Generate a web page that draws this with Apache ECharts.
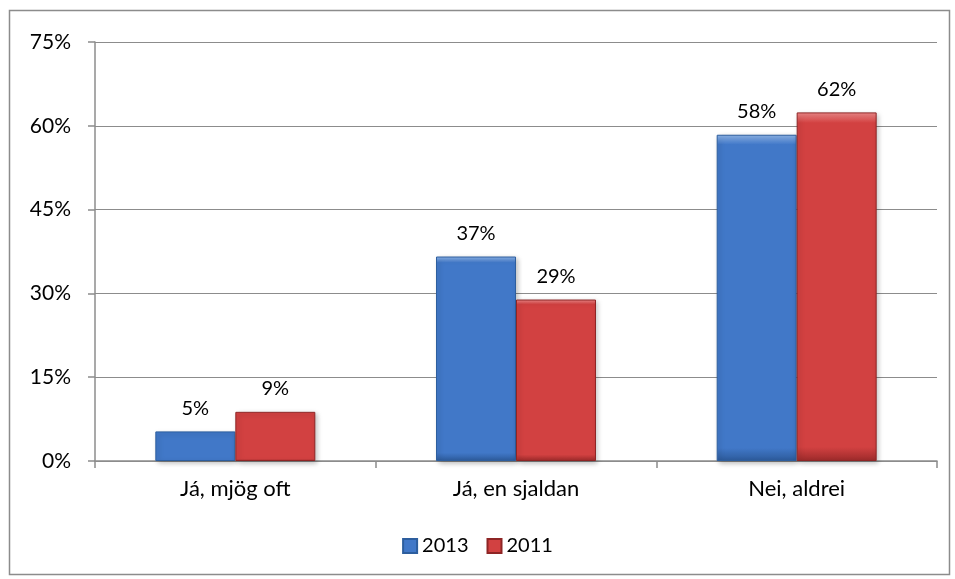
<!DOCTYPE html>
<html><head><meta charset="utf-8">
<script src="https://cdn.jsdelivr.net/npm/echarts@6/dist/echarts.min.js"></script>
<style>html,body{margin:0;padding:0;background:#fff}#c{width:955px;height:579px}</style>
</head><body><div id="c"></div>
<script>
const categories = ['Já, mjög oft', 'Já, en sjaldan', 'Nei, aldrei'];
const series2013 = [5.3, 36.6, 58.4];
const series2011 = [8.8, 28.9, 62.4];
const seriesNames = ['2013', '2011'];

const FONT = 'Lato, "Open Sans", sans-serif';
function grad(light, mid, dark) {
  return new echarts.graphic.LinearGradient(0, 0, 0, 1, [
    {offset: 0, color: light}, {offset: 0.03, color: mid}, {offset: 0.96, color: mid}, {offset: 1, color: dark}
  ]);
}
const chart = echarts.init(document.getElementById('c'), null, {renderer: 'canvas'});
chart.setOption({
  animation: false,
  graphic: [{type: 'rect', left: 7, top: 8, shape: {width: 940, height: 564}, style: {fill: 'none', stroke: '#8c8c8c', lineWidth: 1.5}}],
  grid: {left: 95, right: 18, top: 42, bottom: 118, containLabel: false},
  legend: {
    bottom: 18, left: 'center', itemWidth: 14, itemHeight: 14, itemGap: 18, icon: 'rect',
    textStyle: {fontFamily: FONT, fontSize: 20, color: '#000'},
    data: seriesNames
  },
  xAxis: {
    type: 'category', data: categories,
    axisLine: {lineStyle: {color: '#8c8c8c', width: 1.5}},
    axisTick: {show: true, length: 7, lineStyle: {color: '#8c8c8c', width: 1.5}},
    axisLabel: {fontFamily: FONT, fontSize: 22, color: '#000', margin: 17}
  },
  yAxis: {
    type: 'value', min: 0, max: 75, interval: 15,
    axisLine: {show: true, lineStyle: {color: '#8c8c8c', width: 1.5}},
    axisTick: {show: true, length: 7, lineStyle: {color: '#8c8c8c', width: 1.5}},
    splitLine: {lineStyle: {color: '#8c8c8c', width: 1}},
    axisLabel: {fontFamily: FONT, fontSize: 21, color: '#000', margin: 24, formatter: '{value}%'}
  },
  series: [
    {
      name: seriesNames[0], type: 'bar', data: series2013, barGap: '0%', barCategoryGap: '43%',
      itemStyle: {color: grad('#8fb6ea', '#4178c8', '#2c5a9a'), borderColor: '#2d5e9e', borderWidth: 1,
        shadowColor: 'rgba(0,0,0,0.25)', shadowBlur: 5, shadowOffsetX: 2, shadowOffsetY: 2},
      label: {show: true, position: 'top', distance: 13, fontFamily: FONT, fontSize: 20, color: '#000',
        formatter: p => Math.round(p.value) + '%'}
    },
    {
      name: seriesNames[1], type: 'bar', data: series2011,
      itemStyle: {color: grad('#f08a8a', '#d24141', '#9c2a2a'), borderColor: '#8e2525', borderWidth: 1,
        shadowColor: 'rgba(0,0,0,0.25)', shadowBlur: 5, shadowOffsetX: 2, shadowOffsetY: 2},
      label: {show: true, position: 'top', distance: 13, fontFamily: FONT, fontSize: 20, color: '#000',
        formatter: p => Math.round(p.value) + '%'}
    }
  ]
});
</script></body></html>
